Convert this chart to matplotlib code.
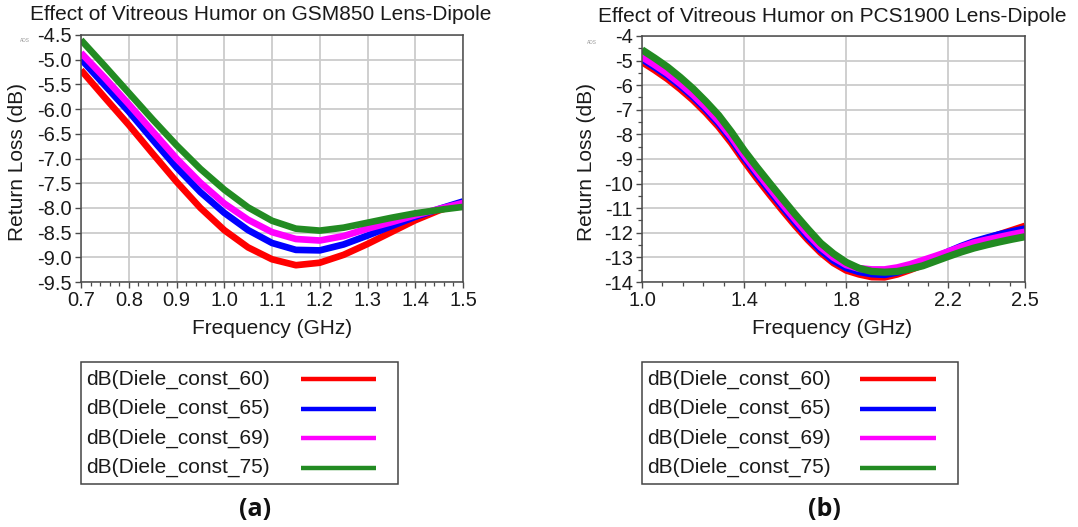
import numpy as np
import matplotlib
matplotlib.use("Agg")
import matplotlib.pyplot as plt
from matplotlib.ticker import MultipleLocator, FixedLocator
from matplotlib.lines import Line2D
from matplotlib.patches import Rectangle

plt.rcParams['font.family'] = ['Liberation Sans', 'DejaVu Sans']

# ---------------- data ----------------
labels = ["dB(Diele_const_60)", "dB(Diele_const_65)",
          "dB(Diele_const_69)", "dB(Diele_const_75)"]
colors = ["#ff0000", "#0000ff", "#ff00ff", "#228b22"]

freq_a = [0.70, 0.75, 0.80, 0.85, 0.90, 0.95, 1.00, 1.05, 1.10,
          1.15, 1.20, 1.25, 1.30, 1.35, 1.40, 1.45, 1.50]
a_60 = [-5.21, -5.77, -6.32, -6.90, -7.47, -8.00, -8.45, -8.80, -9.04,
        -9.16, -9.11, -8.95, -8.73, -8.49, -8.25, -8.05, -7.90]
a_65 = [-4.99, -5.52, -6.05, -6.62, -7.18, -7.68, -8.10, -8.45, -8.71,
        -8.85, -8.86, -8.74, -8.56, -8.37, -8.18, -8.02, -7.87]
a_69 = [-4.86, -5.37, -5.90, -6.45, -7.00, -7.49, -7.91, -8.24, -8.49,
        -8.63, -8.66, -8.57, -8.42, -8.29, -8.15, -8.02, -7.90]
a_75 = [-4.60, -5.13, -5.67, -6.21, -6.73, -7.21, -7.63, -7.99, -8.26,
        -8.42, -8.46, -8.40, -8.30, -8.20, -8.11, -8.04, -7.98]

freq_b = [1.00, 1.05, 1.10, 1.15, 1.20, 1.25, 1.30, 1.35, 1.40, 1.45,
          1.50, 1.55, 1.60, 1.65, 1.70, 1.75, 1.80, 1.85, 1.90, 1.95,
          2.00, 2.05, 2.10, 2.15, 2.20, 2.25, 2.30, 2.35, 2.40, 2.45, 2.50]
b_60 = [-5.05, -5.38, -5.74, -6.15, -6.60, -7.11, -7.68, -8.34, -9.08, -9.78,
        -10.44, -11.08, -11.70, -12.28, -12.80, -13.22, -13.52, -13.68, -13.79, -13.80,
        -13.68, -13.50, -13.30, -13.08, -12.86, -12.63, -12.42, -12.24, -12.07, -11.90, -11.73]
b_65 = [-4.93, -5.26, -5.61, -6.02, -6.47, -6.98, -7.55, -8.20, -8.94, -9.63,
        -10.29, -10.94, -11.57, -12.17, -12.70, -13.12, -13.42, -13.58, -13.67, -13.70,
        -13.60, -13.43, -13.23, -13.00, -12.77, -12.55, -12.36, -12.21, -12.07, -11.95, -11.84]
b_69 = [-4.84, -5.17, -5.52, -5.93, -6.38, -6.89, -7.45, -8.10, -8.84, -9.52,
        -10.18, -10.83, -11.45, -12.05, -12.58, -13.00, -13.30, -13.45, -13.50, -13.50,
        -13.42, -13.29, -13.12, -12.95, -12.77, -12.58, -12.41, -12.29, -12.18, -12.07, -11.97]
b_75 = [-4.56, -4.90, -5.26, -5.68, -6.14, -6.66, -7.22, -7.90, -8.65, -9.33,
        -9.98, -10.62, -11.25, -11.85, -12.42, -12.85, -13.20, -13.44, -13.57, -13.60,
        -13.57, -13.47, -13.34, -13.15, -12.96, -12.78, -12.62, -12.49, -12.37, -12.26, -12.16]

xticks_a = [0.7, 0.8, 0.9, 1.0, 1.1, 1.2, 1.3, 1.4, 1.5]
yticks_a = [-4.5, -5.0, -5.5, -6.0, -6.5, -7.0, -7.5, -8.0, -8.5, -9.0, -9.5]
xticks_b = [1.0, 1.4, 1.8, 2.2, 2.5]
yticks_b = [-4, -5, -6, -7, -8, -9, -10, -11, -12, -13, -14]

title_a = "Effect of Vitreous Humor on GSM850 Lens-Dipole"
title_b = "Effect of Vitreous Humor on PCS1900 Lens-Dipole"
ylab = "Return Loss (dB)"
xlab = "Frequency (GHz)"

# ---------------- figure ----------------
W, H = 1078, 527
fig = plt.figure(figsize=(W / 100, H / 100), dpi=100)
fig.patch.set_facecolor("white")


def px_axes(x0, y0, x1, y1):
    return fig.add_axes([x0 / W, 1 - y1 / H, (x1 - x0) / W, (y1 - y0) / H])


def fx(x):
    return x / W


def fy(y):
    return 1 - y / H


spine_c = "#4a4a4a"
grid_c = "#cccccc"
TICKFS = 14.5
FS = 15


def style(ax):
    for s in ax.spines.values():
        s.set_color(spine_c)
        s.set_linewidth(1.1)
    ax.grid(True, which="major", color=grid_c, linewidth=1.3)
    ax.set_axisbelow(True)
    ax.tick_params(which="major", direction="out", length=4, width=1,
                   color=spine_c, labelsize=TICKFS, labelcolor="#1a1a1a", pad=2.5)
    ax.tick_params(which="minor", direction="out", length=3, width=0.9, color=spine_c)


# ---- panel (a) ----
axa = px_axes(81, 35, 463, 282)
for y, c in zip([a_60, a_65, a_69, a_75], colors):
    axa.plot(freq_a, y, color=c, linewidth=4.8, solid_capstyle="butt",
             solid_joinstyle="round")
axa.set_xlim(0.7, 1.5)
axa.set_ylim(-9.5, -4.5)
axa.set_xticks(xticks_a)
axa.set_xticklabels([f"{v:.1f}" for v in xticks_a])
axa.set_yticks(yticks_a)
axa.set_yticklabels([f"{v:.1f}" for v in yticks_a])
axa.xaxis.set_minor_locator(MultipleLocator(0.02))
style(axa)

# ---- panel (b) ----
axb = px_axes(642, 36, 1025, 282)
for y, c in zip([b_60, b_65, b_69, b_75], colors):
    axb.plot(freq_b, y, color=c, linewidth=5.2, solid_capstyle="butt",
             solid_joinstyle="round")
axb.set_xlim(1.0, 2.5)
axb.set_ylim(-14, -4)
axb.set_xticks(xticks_b)
axb.set_xticklabels([f"{v:.1f}" for v in xticks_b])
axb.set_yticks(yticks_b)
axb.set_yticklabels([f"{v:d}" for v in yticks_b])
axb.xaxis.set_minor_locator(FixedLocator(list(np.arange(1.0, 2.5, 0.08))))
axb.yaxis.set_minor_locator(MultipleLocator(0.5))
style(axb)

# ---- text ----
fig.text(fx(260.5), fy(15), title_a, ha="center", va="center", fontsize=FS, color="#1a1a1a")
fig.text(fx(832), fy(17), title_b, ha="center", va="center", fontsize=FS, color="#1a1a1a")
fig.text(fx(18), fy(162), ylab, rotation=90, ha="center", va="center", fontsize=FS, color="#1a1a1a")
fig.text(fx(586), fy(162), ylab, rotation=90, ha="center", va="center", fontsize=FS, color="#1a1a1a")
fig.text(fx(272), fy(329), xlab, ha="center", va="center", fontsize=FS, color="#1a1a1a")
fig.text(fx(832), fy(329), xlab, ha="center", va="center", fontsize=FS, color="#1a1a1a")
fig.text(fx(25), fy(40), "ADS", ha="center", va="center", fontsize=3.5, color="#999999")
fig.text(fx(592), fy(42), "ADS", ha="center", va="center", fontsize=3.5, color="#999999")

# ---- legends (drawn as boxes with sample lines) ----
def legend_box(ax, x0, x1, tx, lx0, lx1):
    y0, y1 = 362, 484
    fig.patches.append(Rectangle((fx(x0), fy(y1)), fx(x1) - fx(x0), fy(y0) - fy(y1),
                                 transform=fig.transFigure, fill=False,
                                 edgecolor="#444444", linewidth=1.1))
    rows = [379, 408.5, 438, 467.5]
    for line, lab, yy in zip(ax.get_lines(), labels, rows):
        fig.text(fx(tx), fy(yy), lab, ha="left", va="center", fontsize=FS, color="#1a1a1a")
        fig.lines.append(Line2D([fx(lx0), fx(lx1)], [fy(yy), fy(yy)],
                                transform=fig.transFigure, color=line.get_color(),
                                linewidth=3.2, solid_capstyle="butt"))


legend_box(axa, 81, 398, 86, 301, 376)
legend_box(axb, 642, 958, 647, 860, 936)

fig.text(fx(255), fy(510), "(a)", ha="center", va="center", fontsize=18,
         fontweight="bold", family=["Open Sans", "DejaVu Sans"], color="#111111")
fig.text(fx(824), fy(510), "(b)", ha="center", va="center", fontsize=18,
         fontweight="bold", family=["Open Sans", "DejaVu Sans"], color="#111111")

fig.savefig("out.png", dpi=100, facecolor="white")
